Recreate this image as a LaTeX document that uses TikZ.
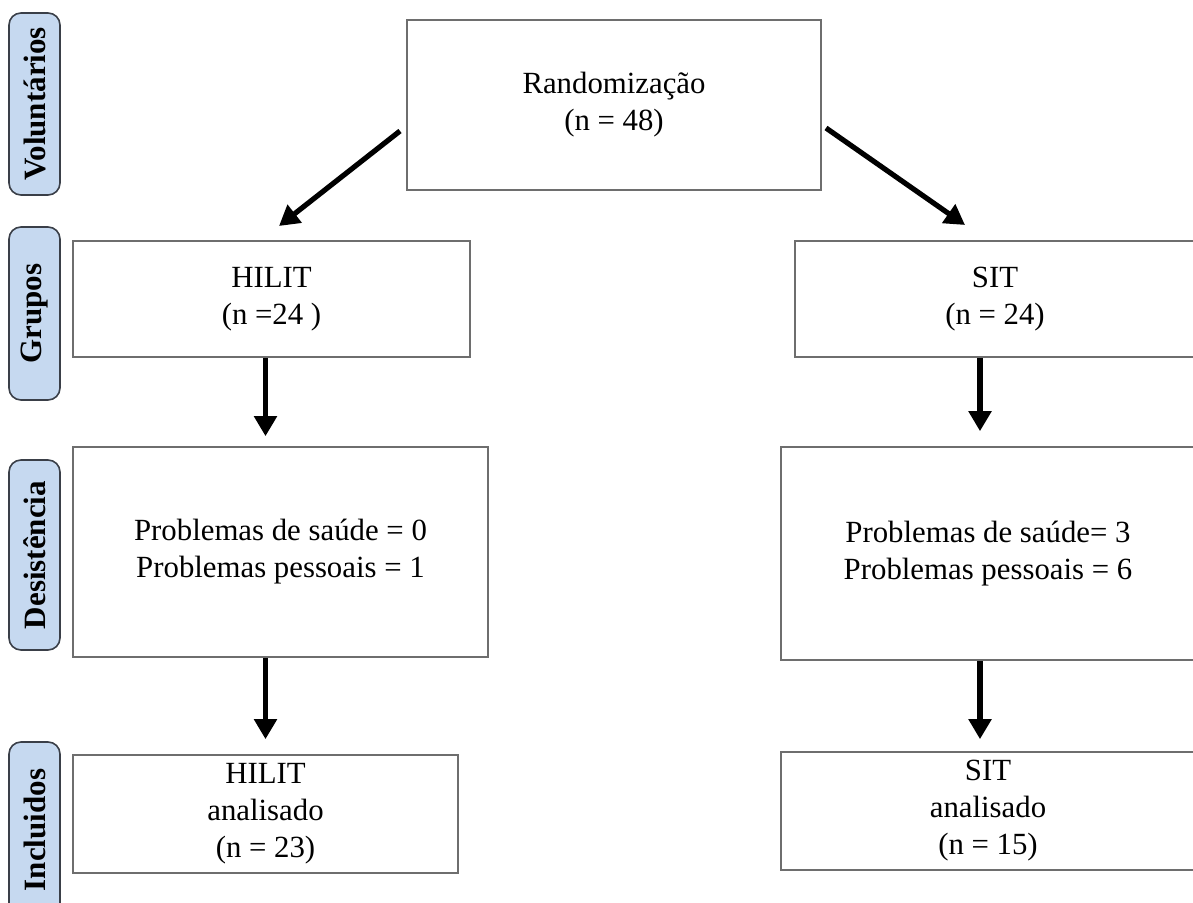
\documentclass[tikz,border=0pt]{standalone}
\usepackage{fontspec}
\setmainfont{Liberation Serif}
\usepackage{tikz}
\definecolor{fasebg}{HTML}{C6D9F0}
\definecolor{fasedraw}{HTML}{3A3F48}
\definecolor{boxline}{HTML}{6E6E6E}
\usetikzlibrary{positioning, arrows.meta, shapes}
\tikzstyle{arrow} = [line width=2.6pt,-{Triangle[length=10pt,width=11pt]}]

\begin{document}
\begin{tikzpicture}[x=0.5pt,y=-0.5pt]
                    \tikzstyle{every node}=[font=\fontsize{15.4}{18.5}\selectfont]
                    \tikzstyle{fase} = [rectangle, rounded corners=6pt, draw=fasedraw, line width=0.8pt, fill=fasebg, rotate=90, minimum height=25.5pt, inner sep=0pt, font=\fontsize{15.5}{18}\selectfont\bfseries]
                    \tikzstyle{caixa} = [rectangle, draw=boxline, line width=0.8pt, align=center, inner sep=0pt]

                    \useasboundingbox (0,0) rectangle (1193,903);

                    % fases
                    \node[fase, minimum width=91pt](vol) at (34.5,104) {Voluntários};
                    \node[fase, minimum width=86.5pt](grp) at (34.5,313.5) {Grupos};
                    \node[fase, minimum width=95pt](des) at (34.5,555) {Desistência};
                    \node[fase, minimum width=88pt](inc) at (34.5,830) {Incluidos};

                    % caixas
                    \node[caixa, minimum width=207pt, minimum height=85pt](rand) at (614,105) {Randomização\\(n = 48)};
                    \node[caixa, minimum width=198.5pt, minimum height=58pt](hilit) at (271.5,299) {HILIT\\(n =24 )};
                    \node[caixa, minimum width=200pt, minimum height=58pt](sit) at (995,299) {SIT\\(n = 24)};
                    \node[caixa, minimum width=207.5pt, minimum height=105pt](desL) at (280.5,552) {Problemas de saúde = 0\\Problemas pessoais = 1};
                    \node[caixa, minimum width=207pt, minimum height=106.5pt](desR) at (988,553.5) {Problemas de saúde= 3\\Problemas pessoais = 6};
                    \node[caixa, minimum width=192.5pt, minimum height=59pt](inclL) at (265.5,814) {HILIT\\analisado\\(n = 23)};
                    \node[caixa, minimum width=207pt, minimum height=59pt](inclR) at (988,811) {SIT\\analisado\\(n = 15)};

                    \coordinate (c1) at (400,131);
                    \coordinate (c2) at (279,226);
                    \coordinate (c3) at (826,128);
                    \coordinate (c4) at (965,225);

                    \draw[arrow] (c1) -- (c2);
                    \draw[arrow] (c3) -- (c4);
                    \draw[arrow, shorten >=5pt] ([xshift=-3pt]hilit.south) -- ([xshift=-3pt]hilit.south |- desL.north);
                    \draw[arrow, shorten >=7.5pt] ([xshift=-7.5pt]sit.south) -- ([xshift=-7.5pt]sit.south |- desR.north);
                    \draw[arrow, shorten >=7.5pt] ([xshift=-7.5pt]desL.south) -- ([xshift=-7.5pt]desL.south |- inclL.north);
                    \draw[arrow, shorten >=6pt] ([xshift=-4pt]desR.south) -- ([xshift=-4pt]desR.south |- inclR.north);

\end{tikzpicture}
\end{document}
